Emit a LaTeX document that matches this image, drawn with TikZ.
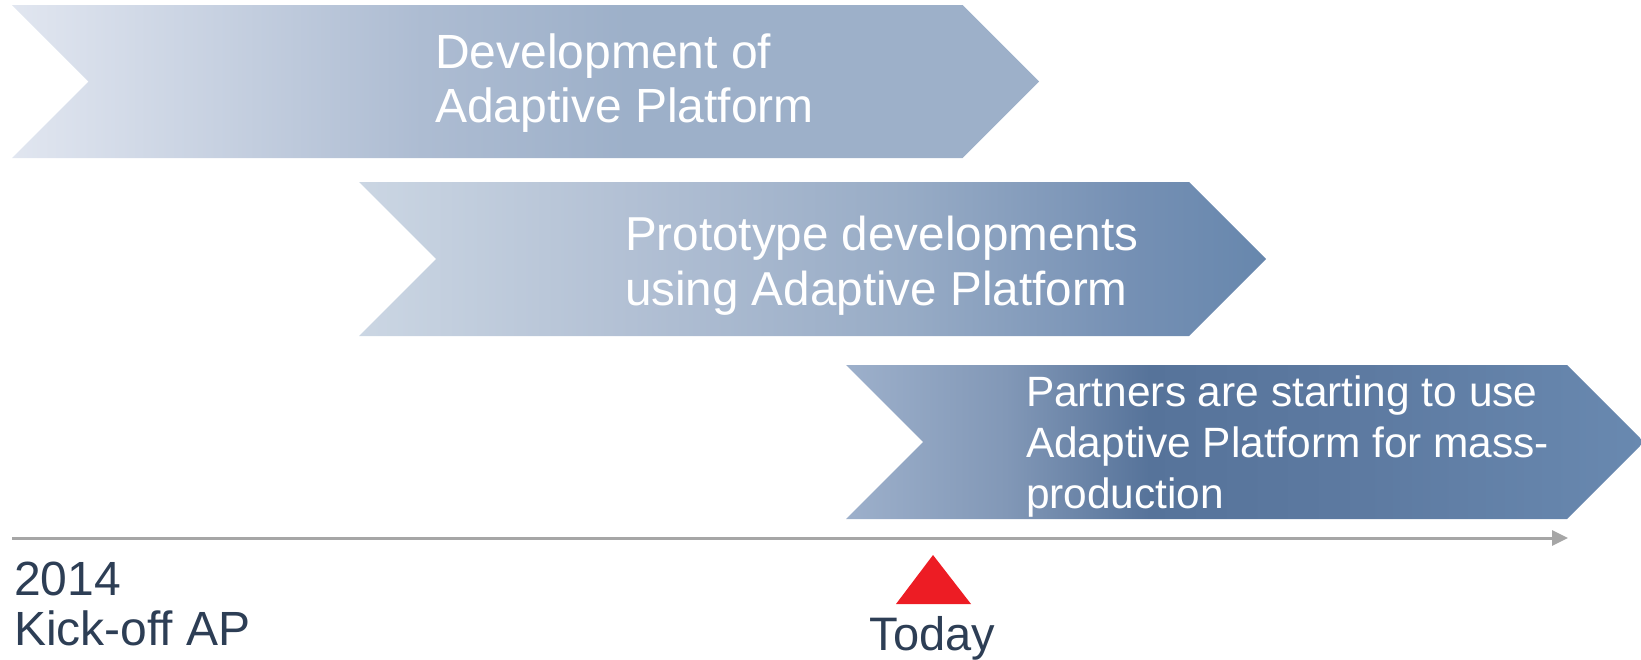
\documentclass[tikz,border=0pt]{standalone}
\usepackage{fontspec}
\setmainfont{Liberation Sans}
\usetikzlibrary{arrows.meta}
\definecolor{aA}{HTML}{E1E6F0}
\definecolor{aB}{HTML}{ADBCD2}
\definecolor{aC}{HTML}{9DB0C9}
\definecolor{bA}{HTML}{CBD6E3}
\definecolor{bB}{HTML}{B2C0D4}
\definecolor{bC}{HTML}{98ACC6}
\definecolor{bD}{HTML}{7590B4}
\definecolor{bE}{HTML}{6787AD}
\definecolor{cA}{HTML}{9DB0CB}
\definecolor{cB}{HTML}{8298B7}
\definecolor{cC}{HTML}{56739A}
\definecolor{cD}{HTML}{5D7AA1}
\definecolor{cE}{HTML}{6989B0}
\definecolor{navy}{HTML}{2D3E55}
\definecolor{axisgray}{HTML}{A6A6A6}
\definecolor{todayred}{HTML}{ED1C24}
\pgfdeclarehorizontalshading{shA}{100bp}{color(0bp)=(aA); color(25bp)=(aA); color(45bp)=(aB); color(55bp)=(aC); color(75bp)=(aC); color(100bp)=(aC)}
\pgfdeclarehorizontalshading{shB}{100bp}{color(0bp)=(bA); color(25bp)=(bA); color(40bp)=(bB); color(55bp)=(bC); color(67.5bp)=(bD); color(75bp)=(bE); color(100bp)=(bE)}
\pgfdeclarehorizontalshading{shC}{100bp}{color(0bp)=(cA); color(25bp)=(cA); color(35bp)=(cB); color(44bp)=(cC); color(57.5bp)=(cD); color(75bp)=(cE); color(100bp)=(cE)}
\begin{document}
\begin{tikzpicture}[x=0.5pt,y=-0.5pt,
  phasetext/.style={anchor=base west,inner sep=0pt,outer sep=0pt,text=white,align=left},
  darktext/.style={inner sep=0pt,outer sep=0pt,text=navy,align=left},
  timeaxis/.style={draw=axisgray,line width=1.5pt,-{Triangle[length=8pt,width=7.5pt]}}]
\useasboundingbox (0,0) rectangle (1641,659);
% chevrons
\path[shading=shA] (12,5) -- (962.5,5) -- (1039,81.5) -- (962.5,158) -- (12,158) -- (88.5,81.5) -- cycle;
\path[shading=shB] (359,182) -- (1189,182) -- (1266,259) -- (1189,336) -- (359,336) -- (436,259) -- cycle;
\path[shading=shC] (846,365) -- (1567,365) -- (1644,442) -- (1567,519) -- (846,519) -- (923,442) -- cycle;
% texts (anchored at the baseline of the last line)
\node[phasetext,font=\fontsize{24}{27}\selectfont] (t1) at (435,122) {Development of\\Adaptive Platform};
\node[phasetext,font=\fontsize{23.8}{27.2}\selectfont] (t2) at (625,305) {Prototype developments\\using Adaptive Platform};
\node[phasetext,font=\fontsize{21.2}{25.5}\selectfont] (t3) at (1026,508) {Partners are starting to use\\Adaptive Platform for mass-\\production};
% timeline
\coordinate (axstart) at (12,538);
\coordinate (axend) at (1568,538);
\draw[timeaxis] (axstart) -- (axend);
\node[darktext,anchor=base west,font=\fontsize{24}{25}\selectfont] (kick) at (14,645) {2014\\Kick-off AP};
\fill[todayred] (933,555) -- (971,604) -- (896,604) -- cycle;
\node[darktext,anchor=base,font=\fontsize{23.5}{25}\selectfont] (today) at (932.5,650) {Today};
\end{tikzpicture}
\end{document}
